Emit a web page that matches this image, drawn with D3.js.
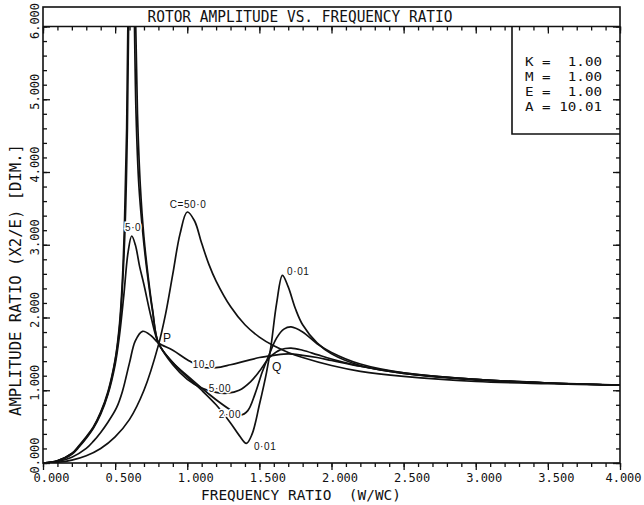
<!DOCTYPE html>
<html>
<head>
<meta charset="utf-8">
<script src="https://cdn.jsdelivr.net/npm/d3@7/dist/d3.min.js"></script>
<style>
  body { margin: 0; background: #fff; }
  text { font-family: "DejaVu Sans Mono", monospace; fill: #111; }
  .lbl { font-family: "Liberation Sans", Arial, sans-serif; }
</style>
</head>
<body>
<div id="plotholder"></div>
<script>
// tick values
const XMAJOR = [0, 0.5, 1, 1.5, 2, 2.5, 3, 3.5, 4]
const XMINOR = d3.range(0, 4.001, 0.1)
const YMAJOR = [0, 1, 2, 3, 4, 5, 6]
const YMINOR = d3.range(0, 6.001, 0.2)

// curves, [frequency ratio, amplitude ratio]
const C_001 = [[0,0],[0.1,0.03],[0.2,0.13],[0.25,0.24],[0.3,0.36],[0.35,0.5],[0.4,0.7],[0.45,0.98],[0.5,1.42],
  [0.53,1.9],[0.55,2.5],[0.565,3.3],[0.58,4.6],[0.59,6.3],[0.61,9],[0.632,6.3],[0.645,4.8],[0.665,3.8],
  [0.69,3.2],[0.72,2.65],[0.76,2.08],[0.8,1.65],[0.9,1.38],[1.0,1.18],[1.1,1.0],[1.2,0.8],[1.3,0.55],
  [1.36,0.38],[1.41,0.27],[1.45,0.4],[1.5,0.8],[1.55,1.25],[1.58,1.6],[1.62,2.2],[1.66,2.58],[1.7,2.42],
  [1.75,2.12],[1.8,1.9],[1.9,1.65],[2.0,1.5],[2.2,1.34],[2.5,1.23],[3.0,1.15],[3.5,1.1],[4.0,1.07]]
const C_200 = [[0,0],[0.1,0.03],[0.2,0.13],[0.25,0.23],[0.3,0.35],[0.35,0.49],[0.4,0.69],[0.45,0.96],[0.5,1.4],
  [0.53,1.85],[0.55,2.4],[0.57,3.3],[0.585,4.6],[0.595,6.3],[0.615,9],[0.64,6.3],[0.655,4.8],[0.675,3.8],
  [0.7,3.1],[0.73,2.55],[0.76,2.1],[0.8,1.65],[0.9,1.38],[1.0,1.2],[1.1,1.03],[1.2,0.87],[1.3,0.73],
  [1.37,0.66],[1.42,0.72],[1.47,0.95],[1.52,1.25],[1.57,1.5],[1.62,1.72],[1.67,1.84],[1.72,1.87],
  [1.8,1.8],[1.9,1.64],[2.0,1.52],[2.2,1.36],[2.5,1.24],[3.0,1.15],[3.5,1.1],[4.0,1.07]]
const C_500 = [[0,0],[0.1,0.03],[0.2,0.12],[0.25,0.22],[0.3,0.34],[0.35,0.48],[0.4,0.67],[0.45,0.94],[0.5,1.35],
  [0.53,1.75],[0.56,2.3],[0.59,2.9],[0.615,3.12],[0.64,3.0],[0.67,2.7],[0.7,2.45],[0.75,2.0],[0.8,1.65],
  [0.9,1.35],[1.0,1.15],[1.1,1.03],[1.2,0.97],[1.28,0.96],[1.36,1.0],[1.44,1.12],[1.5,1.26],[1.57,1.45],
  [1.65,1.56],[1.72,1.58],[1.8,1.55],[1.9,1.49],[2.0,1.43],[2.2,1.33],[2.5,1.23],[3.0,1.14],[3.5,1.1],[4.0,1.07]]
const C_100 = [[0,0],[0.1,0.02],[0.2,0.08],[0.3,0.2],[0.35,0.3],[0.4,0.42],[0.45,0.56],[0.51,0.76],[0.55,0.98],
  [0.6,1.38],[0.64,1.68],[0.69,1.81],[0.75,1.75],[0.8,1.65],[0.9,1.55],[1.0,1.42],[1.1,1.32],
  [1.2,1.31],[1.3,1.35],[1.4,1.4],[1.5,1.45],[1.6,1.48],[1.7,1.5],[1.8,1.48],[1.9,1.45],[2.0,1.41],
  [2.2,1.33],[2.5,1.24],[3.0,1.15],[3.5,1.1],[4.0,1.07]]
const C_500B = [[0,0],[0.1,0.01],[0.2,0.04],[0.3,0.1],[0.4,0.2],[0.5,0.36],[0.6,0.6],[0.7,1.0],[0.8,1.62],
  [0.85,2.05],[0.9,2.6],[0.95,3.15],[1.0,3.45],[1.05,3.33],[1.1,3.02],[1.15,2.73],[1.2,2.5],[1.3,2.15],
  [1.4,1.9],[1.5,1.73],[1.6,1.61],[1.7,1.52],[1.8,1.45],[2.0,1.34],[2.2,1.26],[2.5,1.19],[3.0,1.12],
  [3.5,1.09],[4.0,1.07]]
const CURVES = [C_001, C_200, C_500, C_100, C_500B]

// curve labels, placed in data units
const LABELS = [
  { text: 'C=50·0', x: 1.005, y: 3.55 },
  { text: '5·0', x: 0.625, y: 3.24 },
  { text: '0·01', x: 1.77, y: 2.63 },
  { text: '10·0', x: 1.115, y: 1.36 },
  { text: '5·00', x: 1.227, y: 1.02 },
  { text: '2·00', x: 1.296, y: 0.67 },
  { text: '0·01', x: 1.54, y: 0.23 },
]
const POINTS = [
  { text: 'P', x: 0.86, y: 1.72 },
  { text: 'Q', x: 1.62, y: 1.32 },
]
const PARAMS = ['K =  1.00', 'M =  1.00', 'E =  1.00', 'A = 10.01']

const W = 644, H = 505
const svg = d3.select('#plotholder').append('svg').attr('width', W).attr('height', H)

const x = d3.scaleLinear().domain([0, 4]).range([43, 620])
const y = d3.scaleLinear().domain([0, 6]).range([463, 26.5])
const fmt = d3.format('.3f')
const ink = '#111'

svg.append('clipPath').attr('id', 'clip').append('rect')
  .attr('x', x(0)).attr('y', y(6)).attr('width', x(4) - x(0)).attr('height', y(0) - y(6))

// frame + title box
svg.append('rect').attr('x', x(0)).attr('y', 7).attr('width', x(4) - x(0)).attr('height', y(0) - 7)
  .attr('fill', 'none').attr('stroke', ink).attr('stroke-width', 1.6)
svg.append('line').attr('x1', x(0)).attr('x2', x(4)).attr('y1', y(6)).attr('y2', y(6))
  .attr('stroke', ink).attr('stroke-width', 1.6)
svg.append('text').attr('x', 300).attr('y', 21.5).attr('text-anchor', 'middle')
  .attr('font-size', 15.5).attr('textLength', 305).attr('lengthAdjust', 'spacingAndGlyphs')
  .text('ROTOR AMPLITUDE VS. FREQUENCY RATIO')

const styleAxis = g => {
  g.select('.domain').remove()
  g.selectAll('line').attr('stroke', ink).attr('stroke-width', 1.3)
}

// bottom
svg.append('g').attr('transform', `translate(0,${y(0)})`)
  .call(d3.axisBottom(x).tickValues(XMINOR).tickSize(4).tickFormat(''))
  .call(styleAxis)
const gb = svg.append('g').attr('transform', `translate(0,${y(0)})`)
  .call(d3.axisBottom(x).tickValues(XMAJOR).tickSize(7).tickFormat(fmt))
  .call(styleAxis)
gb.selectAll('text').attr('y', 19).attr('dy', null).attr('dx', d => d === 4 ? 3 : 8)
  .attr('font-size', 12).attr('fill', ink)

// top
svg.append('g').attr('transform', `translate(0,${y(6)})`)
  .call(d3.axisTop(x).tickValues(XMINOR).tickSize(-4).tickFormat(''))
  .call(styleAxis)
svg.append('g').attr('transform', `translate(0,${y(6)})`)
  .call(d3.axisTop(x).tickValues(XMAJOR).tickSize(-7).tickFormat(''))
  .call(styleAxis)

// left
svg.append('g').attr('transform', `translate(${x(0)},0)`)
  .call(d3.axisLeft(y).tickValues(YMINOR).tickSize(-4).tickFormat(''))
  .call(styleAxis)
const gl = svg.append('g').attr('transform', `translate(${x(0)},0)`)
  .call(d3.axisLeft(y).tickValues(YMAJOR).tickSize(-7).tickFormat(fmt))
  .call(styleAxis)
gl.selectAll('text').attr('x', null).attr('dy', null)
  .attr('transform', d => `translate(-8,${d === 6 ? -6 : -8}) rotate(-90)`)
  .attr('text-anchor', 'middle').attr('dominant-baseline', 'central')
  .attr('font-size', 12).attr('fill', ink)

// right
svg.append('g').attr('transform', `translate(${x(4)},0)`)
  .call(d3.axisRight(y).tickValues(YMINOR).tickSize(-4).tickFormat(''))
  .call(styleAxis)
svg.append('g').attr('transform', `translate(${x(4)},0)`)
  .call(d3.axisRight(y).tickValues(YMAJOR).tickSize(-7).tickFormat(''))
  .call(styleAxis)

// axis titles
svg.append('text').attr('x', 301).attr('y', 499.5).attr('text-anchor', 'middle')
  .attr('font-size', 14).attr('textLength', 200).attr('lengthAdjust', 'spacingAndGlyphs')
  .attr('xml:space', 'preserve').text('FREQUENCY RATIO  (W/WC)')
svg.append('text').attr('transform', 'translate(16,280) rotate(-90)').attr('text-anchor', 'middle')
  .attr('dominant-baseline', 'central').attr('font-size', 15.5)
  .attr('textLength', 272).attr('lengthAdjust', 'spacingAndGlyphs')
  .text('AMPLITUDE RATIO (X2/E) [DIM.]')

// parameter box
const bx0 = 512, by1 = 134
svg.append('path').attr('d', `M${bx0},${y(6)}V${by1}H${x(4)}`)
  .attr('fill', 'none').attr('stroke', ink).attr('stroke-width', 1.6)
svg.selectAll('text.par').data(PARAMS).enter().append('text').attr('class', 'par')
  .attr('x', 525).attr('y', (d, i) => 65.5 + i * 15)
  .attr('font-size', 13).attr('xml:space', 'preserve')
  .attr('textLength', 77).attr('lengthAdjust', 'spacingAndGlyphs')
  .text(d => d)

// curves
const line = d3.line().x(d => x(d[0])).y(d => y(d[1])).curve(d3.curveCatmullRom.alpha(0.5))
svg.append('g').attr('clip-path', 'url(#clip)')
  .selectAll('path').data(CURVES).enter().append('path')
  .attr('d', line).attr('fill', 'none').attr('stroke', ink).attr('stroke-width', 1.7)

// labels
svg.selectAll('text.lbl').data(LABELS).enter().append('text').attr('class', 'lbl')
  .attr('x', d => x(d.x)).attr('y', d => y(d.y))
  .attr('text-anchor', 'middle').attr('dominant-baseline', 'central')
  .attr('font-size', 10).attr('letter-spacing', 0.6)
  .attr('stroke', '#fff').attr('stroke-width', 3).attr('paint-order', 'stroke')
  .text(d => d.text)
svg.selectAll('text.pt').data(POINTS).enter().append('text').attr('class', 'lbl pt')
  .attr('x', d => x(d.x)).attr('y', d => y(d.y))
  .attr('text-anchor', 'middle').attr('dominant-baseline', 'central')
  .attr('font-size', 12)
  .text(d => d.text)
</script>
</body>
</html>
